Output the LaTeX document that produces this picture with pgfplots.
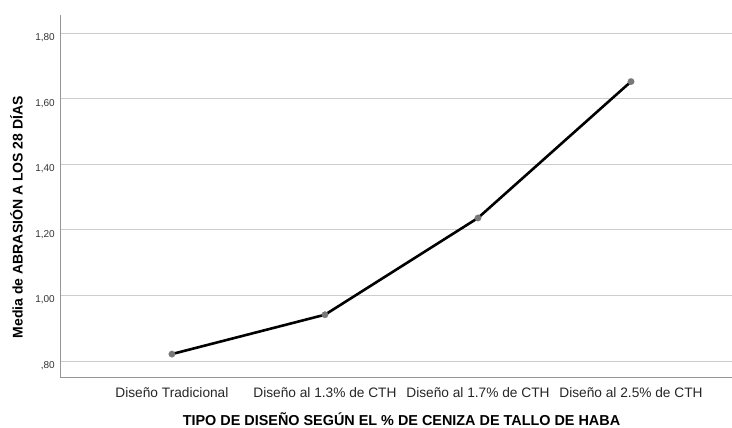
\documentclass[border=0pt]{standalone}
\usepackage{pgfplots}
\pgfplotsset{compat=1.18}
\usepackage{fontspec}
\setmainfont{Liberation Sans}
\definecolor{axisgray}{RGB}{150,150,150}
\definecolor{gridgray}{RGB}{205,205,205}
\definecolor{markgray}{RGB}{120,120,120}
\begin{document}
\begin{tikzpicture}[x=1pt,y=1pt]
\useasboundingbox (0,0) rectangle (732,428);
\begin{axis}[
    at={(61pt,50pt)}, anchor=south west,
    scale only axis,
    width=671pt, height=363pt,
    xmin=-0.725, xmax=3.66,
    ymin=0.748, ymax=1.855,
    axis x line*=bottom, axis y line*=left,
    axis line style={axisgray, line width=1pt},
    xtick={0,1,2,3},
    xticklabels={Diseño Tradicional, Diseño al 1.3\% de CTH, Diseño al 1.7\% de CTH, Diseño al 2.5\% de CTH},
    ytick={0.8,1.0,1.2,1.4,1.6,1.8},
    yticklabels={{,80},{1,00},{1,20},{1,40},{1,60},{1,80}},
    major tick length=0pt,
    ymajorgrids=true,
    grid style={gridgray, line width=0.8pt},
    xticklabel style={font=\fontsize{13.7}{15}\selectfont, text=black!85,
        anchor=base, inner sep=0pt, yshift=-19.5pt},
    yticklabel style={font=\fontsize{10}{12}\selectfont, text=black!80,
        anchor=base east, inner sep=0pt, xshift=-6pt, yshift=-7.4pt},
    xlabel={\textbf{TIPO DE DISEÑO SEGÚN EL \% DE CENIZA DE TALLO DE HABA}},
    ylabel={\textbf{Media de ABRASIÓN A LOS 28 DÍAS}},
    xlabel style={font=\fontsize{14.4}{16}\selectfont,
        at={(axis description cs:0.5,0)}, anchor=base, inner sep=0pt,
        yshift=-48pt, xshift=5pt},
    ylabel style={font=\fontsize{14}{16}\selectfont,
        at={(axis description cs:-0.0663,0.443)}, anchor=center, inner sep=0pt},
    clip=false,
]
\addplot[black, line width=2.6pt, mark=*, mark size=3.3pt,
    mark options={fill=markgray, draw=markgray, line width=0.1pt}]
    coordinates {(0,0.821)(1,0.941)(2,1.236)(3,1.652)};
\end{axis}
\end{tikzpicture}
\end{document}
